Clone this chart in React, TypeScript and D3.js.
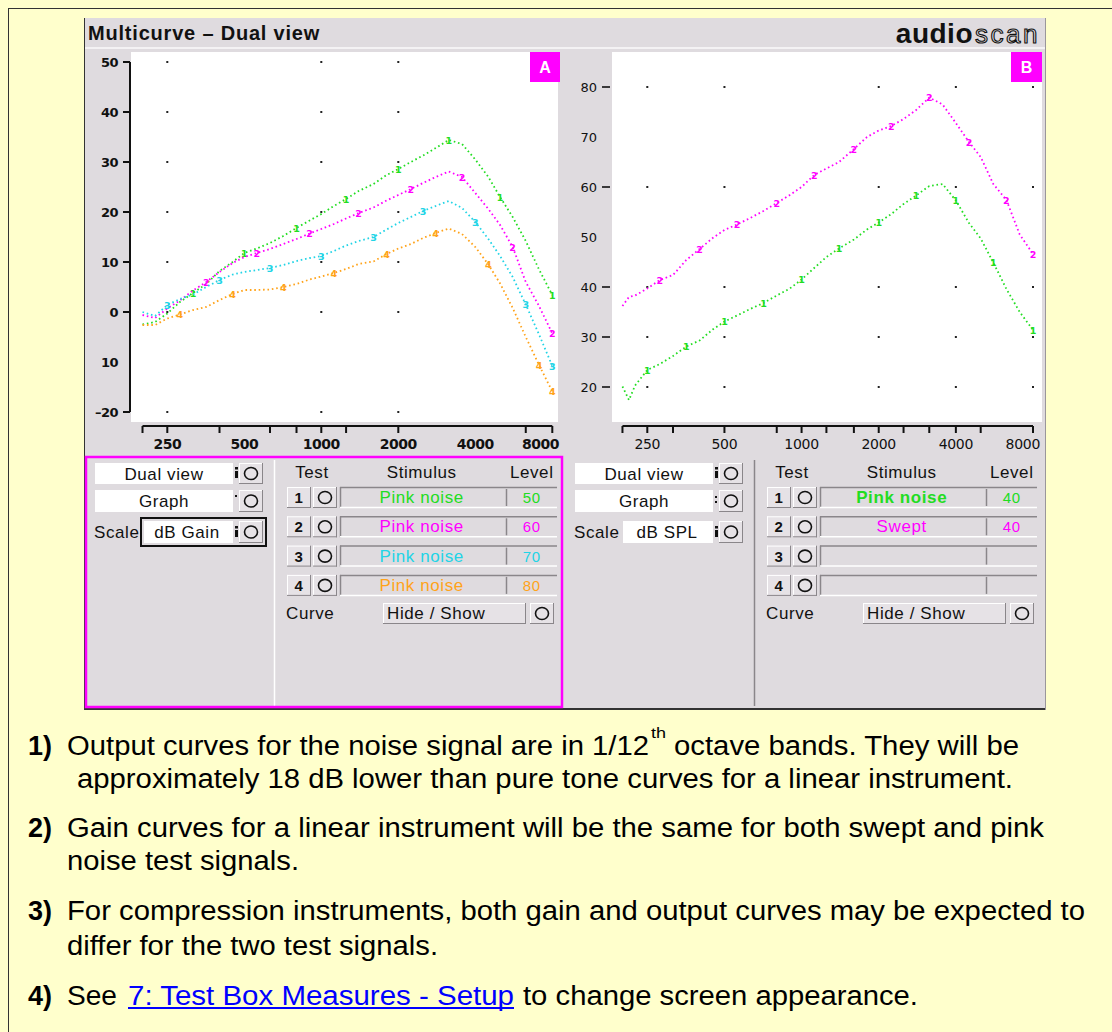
import React from 'react';
import * as d3 from 'd3';

// ---------- DATA ----------
const freqsA = [200, 224, 250, 280, 315, 355, 400, 450, 500, 560, 630, 710, 800, 900, 1000, 1120, 1250, 1400, 1600, 1800, 2000, 2240, 2500, 2800, 3150, 3550, 4000, 4500, 5000, 5600, 6300, 7100, 8000];
const gain50 = [-2.5, -2.0, -0.3, 2.0, 3.8, 5.6, 8.2, 10.0, 11.8, 12.7, 13.8, 15.2, 16.8, 18.3, 19.6, 21.2, 22.6, 24.2, 25.6, 27.4, 28.6, 30.0, 31.3, 32.8, 34.4, 33.6, 30.5, 27.0, 23.0, 19.0, 14.2, 8.5, 3.4];
const gain60 = [-0.6, -1.2, 0.7, 2.3, 4.3, 6.0, 8.0, 9.8, 11.0, 11.8, 12.6, 13.6, 14.6, 15.7, 16.6, 17.6, 18.7, 19.8, 20.9, 22.3, 23.4, 24.6, 25.8, 27.0, 28.1, 27.0, 23.8, 20.6, 17.4, 13.0, 6.0, 1.2, -4.3];
const gain70 = [0.0, -0.8, 1.4, 2.6, 3.5, 5.0, 6.4, 7.5, 8.0, 8.4, 8.8, 9.4, 10.2, 10.8, 11.2, 12.2, 13.3, 14.2, 15.0, 16.5, 17.8, 19.0, 20.2, 21.2, 22.2, 20.8, 18.0, 14.6, 11.2, 7.0, 1.5, -4.5, -10.8];
const gain80 = [-2.6, -2.6, -1.3, -0.5, 0.4, 1.0, 2.4, 3.6, 4.4, 4.4, 4.5, 5.0, 5.6, 6.5, 7.1, 7.8, 8.6, 9.6, 10.1, 11.6, 12.7, 13.6, 14.8, 15.8, 16.7, 15.6, 13.0, 9.5, 5.7, 0.8, -5.0, -10.6, -15.9];

const freqsB = [200, 212, 224, 250, 280, 315, 355, 400, 450, 500, 560, 630, 710, 800, 900, 1000, 1120, 1250, 1400, 1600, 1800, 2000, 2240, 2500, 2800, 3150, 3550, 4000, 4500, 5000, 5600, 6300, 7100, 8000];
const splPink40 = [20.1, 17.4, 20.3, 23.4, 24.6, 26.2, 28.1, 29.3, 31.5, 33.1, 34.3, 35.6, 36.8, 38.3, 39.7, 41.5, 43.8, 46.0, 47.7, 49.5, 51.5, 52.9, 54.6, 56.6, 58.3, 60.2, 60.6, 57.3, 52.8, 49.7, 44.9, 39.6, 35.0, 31.4];
const splSwept40 = [36.2, 38.0, 38.3, 39.7, 41.4, 42.4, 45.4, 47.6, 49.8, 51.4, 52.5, 53.8, 55.2, 56.8, 58.4, 60.0, 62.4, 63.7, 65.0, 67.6, 70.0, 71.3, 72.2, 73.6, 75.4, 77.9, 76.5, 72.8, 69.0, 66.0, 60.6, 57.4, 50.5, 46.6];

const xTickFreqsA = [200, 250, 400, 630, 800, 1000, 1250, 2000, 6300, 8000];
const xTickFreqsB = [200, 250, 315, 500, 800, 1000, 1250, 1600, 2000, 2500, 3150, 4000, 5000, 8000];
const xLabelFreqs = [250, 500, 1000, 2000, 4000, 8000];
const yTicksA = [50, 40, 30, 20, 10, 0, -20];
const yLabelValsA = [50, 40, 30, 20, 10, 0, -10, -20];
const yLabelTextA = ['50', '40', '30', '20', '10', '0', '10', '\u201320'];
const gridColsA = [250, 1000, 2000];
const gridRowsA = [50, 40, 30, 20, 10, 0, -20];
const yLabelValsB = [80, 70, 60, 50, 40, 30, 20];
const yDashB = [80, 60, 40, 30, 20];
const gridColsB = [250, 500, 2000, 4000, 8000];
const gridRowsB = [80, 60, 40, 30, 20];

const testsA = [
  { num: '1', stim: 'Pink noise', level: '50' },
  { num: '2', stim: 'Pink noise', level: '60' },
  { num: '3', stim: 'Pink noise', level: '70' },
  { num: '4', stim: 'Pink noise', level: '80' },
];
const testsB = [
  { num: '1', stim: 'Pink noise', level: '40' },
  { num: '2', stim: 'Swept', level: '40' },
  { num: '3', stim: '', level: '' },
  { num: '4', stim: '', level: '' },
];

// ---------- STYLES ----------
const GREEN = '#22DD22';
const MAGENTA = '#FF00FF';
const CYAN = '#22D4E6';
const ORANGE = '#FFA31A';
const PANEL = '#DFDBDF';
const YELLOW = '#FFFFCC';
const UI_FONT = '"Liberation Sans", Arial, sans-serif';
const curveColorsA = [GREEN, MAGENTA, CYAN, ORANGE];
const curveColorsB = [GREEN, MAGENTA];

const xA = d3.scaleLog().domain([250, 8000]).range([167.3, 552.3]);
const yA = d3.scaleLinear().domain([50, -20]).range([62, 412]);
const xB = d3.scaleLog().domain([250, 8000]).range([647.3, 1033]);
const yB = d3.scaleLinear().domain([80, 20]).range([87, 387]);

function Raised({ x, y, w, h, children }: any) {
  return (
    <g>
      <rect x={x} y={y} width={w} height={h} fill="#E6E2E6" />
      <line x1={x} y1={y + 0.5} x2={x + w} y2={y + 0.5} stroke="#FFFFFF" />
      <line x1={x + 0.5} y1={y} x2={x + 0.5} y2={y + h} stroke="#FFFFFF" />
      <line x1={x} y1={y + h - 0.5} x2={x + w} y2={y + h - 0.5} stroke="#8A868A" />
      <line x1={x + w - 0.5} y1={y} x2={x + w - 0.5} y2={y + h} stroke="#8A868A" />
      {children}
    </g>
  );
}

function CircleBtn({ x, y, w, h }: any) {
  return (
    <Raised x={x} y={y} w={w} h={h}>
      <ellipse cx={x + w / 2} cy={y + h / 2} rx={6.5} ry={6} fill="none" stroke="#111" strokeWidth={1.6} />
    </Raised>
  );
}

function Sunken({ x, y, w, h }: any) {
  return (
    <g>
      <rect x={x} y={y} width={w} height={h} fill={PANEL} />
      <line x1={x} y1={y + 0.5} x2={x + w} y2={y + 0.5} stroke="#8A868A" strokeWidth={1.5} />
      <line x1={x + 0.5} y1={y} x2={x + 0.5} y2={y + h} stroke="#8A868A" strokeWidth={1.5} />
      <line x1={x} y1={y + h - 0.5} x2={x + w} y2={y + h - 0.5} stroke="#FFFFFF" strokeWidth={1.5} />
    </g>
  );
}

function Marker({ x, y, kind }: any) {
  if (kind === 'dot') return <rect x={x} y={y - 6} width={2} height={2} fill="#111" />;
  if (kind === 'colon') return (
    <g fill="#111">
      <rect x={x} y={y - 5} width={2} height={2} />
      <rect x={x} y={y} width={2} height={2} />
    </g>
  );
  return (
    <g fill="#111">
      <rect x={x} y={y - 6} width={3} height={2.5} />
      <rect x={x} y={y - 2} width={3} height={7} />
    </g>
  );
}

function ControlPanel({ ox, tests, colors, scaleText, boxed, markers, hideText }: any) {
  const rowTop = (i: number) => 487 + 29.3 * i;
  return (
    <g fontFamily={UI_FONT} fontSize={17} letterSpacing={0.6}>
      <rect x={95 + ox} y={463} width={138} height={21} fill="#FFFFFF" />
      <text x={164 + ox} y={479.5} textAnchor="middle" fill="#111">Dual view</text>
      <Marker x={235 + ox} y={473} kind={markers[0]} />
      <CircleBtn x={239 + ox} y={463} w={24} h={21} />

      <rect x={95 + ox} y={490} width={138} height={22} fill="#FFFFFF" />
      <text x={164 + ox} y={507} textAnchor="middle" fill="#111">Graph</text>
      <Marker x={235 + ox} y={501} kind={markers[1]} />
      <CircleBtn x={239 + ox} y={490} w={24} h={22} />

      <text x={94 + ox} y={538} fill="#111">Scale</text>
      {boxed && <rect x={141 + ox} y={518} width={125} height={28} fill="none" stroke="#111" strokeWidth={2} />}
      <rect x={(boxed ? 144 : 623 - 480) + ox} y={521} width={boxed ? 89 : 90} height={22} fill="#FFFFFF" />
      <text x={(boxed ? 187 : 667 - 480) + ox} y={538} textAnchor="middle" fill="#111">{scaleText}</text>
      <Marker x={235 + ox} y={532} kind={markers[2]} />
      <CircleBtn x={239 + ox} y={521} w={24} h={22} />

      <line x1={274.5 + ox} y1={460} x2={274.5 + ox} y2={706} stroke={ox === 0 ? '#FFFFFF' : '#8A868A'} strokeWidth={1.5} />

      <text x={312 + ox} y={478} textAnchor="middle" fill="#111">Test</text>
      <text x={421.7 + ox} y={478} textAnchor="middle" fill="#111">Stimulus</text>
      <text x={531.7 + ox} y={478} textAnchor="middle" fill="#111">Level</text>

      {tests.map((t: any, i: number) => (
        <g key={i}>
          <Raised x={287 + ox} y={rowTop(i)} w={24} h={21}>
            <text x={299 + ox} y={rowTop(i) + 16} textAnchor="middle" fill="#111" fontWeight="bold" fontSize={15}>{t.num}</text>
          </Raised>
          <CircleBtn x={313 + ox} y={rowTop(i)} w={24} h={21} />
          <Sunken x={340 + ox} y={rowTop(i)} w={217} h={21} />
          <line x1={506.5 + ox} y1={rowTop(i) + 2} x2={506.5 + ox} y2={rowTop(i) + 19} stroke="#8A868A" strokeWidth={1.5} />
          {t.stim && (
            <text x={421.7 + ox} y={rowTop(i) + 16} textAnchor="middle" fill={colors[i]} fontWeight={ox !== 0 && i === 0 ? 'bold' : 'normal'}>{t.stim}</text>
          )}
          {t.level && (
            <text x={531.7 + ox} y={rowTop(i) + 16} textAnchor="middle" fill={colors[i]} fontSize={15}>{t.level}</text>
          )}
        </g>
      ))}

      <text x={286 + ox} y={619} fill="#111">Curve</text>
      <Raised x={383 + ox} y={603} w={143} h={21}>
        <text x={387 + ox} y={619} fill="#111">{hideText}</text>
      </Raised>
      <CircleBtn x={530 + ox} y={603} w={24} h={21} />
    </g>
  );
}

function Curve({ freqs, values, x, y, color, label, step, phase }: any) {
  const line = d3.line<number>().x((_, i) => x(freqs[i])).y((d) => y(d));
  const n = values.length;
  const idx = values.map((_: number, i: number) => i).filter((i: number) => (i >= 2 && i % step === phase) || i === n - 1);
  return (
    <g>
      <path d={line(values) || ''} fill="none" stroke={color} strokeWidth={1.8} strokeDasharray="1.6 2.8" />
      {idx.map((i: number) => (
        <text key={i} x={x(freqs[i])} y={y(values[i]) + 3.5} textAnchor="middle" fontSize={9.5} fontWeight="bold" fontFamily='"DejaVu Sans", sans-serif' fill={color}>{label}</text>
      ))}
    </g>
  );
}

export default function App() {
  const seriesA = [gain50, gain60, gain70, gain80];
  const seriesB = [splPink40, splSwept40];
  const labelsA = ['1', '2', '3', '4'];
  const labelsB = ['1', '2'];

  const para = { fontFamily: UI_FONT, fontSize: 27, fill: '#000' } as any;

  return (
    <svg width={1112} height={1032} style={{ position: 'absolute', left: 0, top: 0 }} xmlns="http://www.w3.org/2000/svg">
      <defs>
        <clipPath id="clipA"><rect x={131} y={52} width={427} height={370} /></clipPath>
        <clipPath id="clipB"><rect x={612} y={52} width={430} height={370} /></clipPath>
      </defs>
      <rect x={0} y={0} width={1112} height={1032} fill={YELLOW} />
      <line x1={8.5} y1={8} x2={8.5} y2={1032} stroke="#333" strokeWidth={1} />
      <line x1={8} y1={8.5} x2={1112} y2={8.5} stroke="#333" strokeWidth={1} />

      {/* window */}
      <rect x={84} y={18} width={962} height={692} fill={PANEL} />
      <line x1={84.5} y1={18} x2={84.5} y2={710} stroke="#333" />
      <line x1={84} y1={709} x2={1046} y2={709} stroke="#333" strokeWidth={2} />
      <line x1={1045.5} y1={18} x2={1045.5} y2={710} stroke="#9A969A" />
      <line x1={85} y1={48} x2={1045} y2={48} stroke="#F4F2F4" strokeWidth={2} />

      {/* title bar */}
      <text x={88} y={40} fontFamily={UI_FONT} fontSize={20} fontWeight="bold" fill="#111" letterSpacing={0.8}>Multicurve – Dual view</text>
      <text x={973} y={43} textAnchor="end" fontFamily={UI_FONT} fontSize={28} fontWeight="bold" fill="#111" letterSpacing={0.5}>audio</text>
      <text x={975} y={43} fontFamily={UI_FONT} fontSize={26} fill="none" stroke="#111" strokeWidth={1.1} letterSpacing={2.5}>scan</text>

      {/* plot areas */}
      <rect x={131} y={52} width={427} height={370} fill="#FFFFFF" />
      <rect x={612} y={52} width={430} height={370} fill="#FFFFFF" />

      {/* badges */}
      <rect x={530} y={52} width={30} height={30} fill={MAGENTA} />
      <text x={545} y={73} textAnchor="middle" fontFamily={UI_FONT} fontSize={16} fontWeight="bold" fill="#FFF">A</text>
      <rect x={1011} y={52} width={31} height={30} fill={MAGENTA} />
      <text x={1026.5} y={73} textAnchor="middle" fontFamily={UI_FONT} fontSize={16} fontWeight="bold" fill="#FFF">B</text>

      {gridRowsA.map((r) => gridColsA.map((c) => (
        <rect key={`ga${r}-${c}`} x={xA(c) - 1} y={yA(r) - 1} width={2} height={2} fill="#222" />
      )))}
      {gridRowsB.map((r) => gridColsB.map((c) => (
        <rect key={`gb${r}-${c}`} x={xB(c) - 1} y={yB(r) - 1} width={2} height={2} fill="#222" />
      )))}

      {/* chart A axes */}
      <line x1={130} y1={yA(50)} x2={130} y2={yA(-20)} stroke="#111" strokeWidth={2} />
      {yTicksA.map((v) => (
        <line key={`yta${v}`} x1={123} y1={yA(v)} x2={130} y2={yA(v)} stroke="#111" strokeWidth={2} />
      ))}
      {yLabelValsA.map((v, i) => (
        <text key={`yla${v}`} x={118} y={yA(v) + 5} textAnchor="end" fontFamily='"DejaVu Sans", sans-serif' fontSize={13} fontWeight="bold" fill="#111" letterSpacing={-0.5}>{yLabelTextA[i]}</text>
      ))}
      <line x1={xA(200)} y1={426} x2={xA(8000)} y2={426} stroke="#111" strokeWidth={2} />
      {xTickFreqsA.map((f) => (
        <line key={`xta${f}`} x1={xA(f)} y1={426} x2={xA(f)} y2={433} stroke="#111" strokeWidth={2} />
      ))}
      {xLabelFreqs.map((f, i) => (
        <text key={`xla${f}`} x={i === xLabelFreqs.length - 1 ? 559 : xA(f)} y={449} textAnchor={i === xLabelFreqs.length - 1 ? 'end' : 'middle'} fontFamily='"DejaVu Sans", sans-serif' fontSize={14} fontWeight="bold" fill="#111" letterSpacing={-0.5}>{f}</text>
      ))}

      {/* chart B axes */}
      {yLabelValsB.map((v) => (
        <g key={`ylb${v}`}>
          <text x={597} y={yB(v) + 5} textAnchor="end" fontFamily='"DejaVu Sans", sans-serif' fontSize={13} fill="#111">{v}</text>
          {yDashB.includes(v) && <line x1={602} y1={yB(v)} x2={610} y2={yB(v)} stroke="#111" strokeWidth={1.6} />}
        </g>
      ))}
      <line x1={xB(200)} y1={426} x2={xB(8000)} y2={426} stroke="#111" strokeWidth={2} />
      {xTickFreqsB.map((f) => (
        <line key={`xtb${f}`} x1={xB(f)} y1={426} x2={xB(f)} y2={433} stroke="#111" strokeWidth={2} />
      ))}
      {xLabelFreqs.map((f, i) => (
        <text key={`xlb${f}`} x={i === xLabelFreqs.length - 1 ? 1040 : xB(f)} y={449} textAnchor={i === xLabelFreqs.length - 1 ? 'end' : 'middle'} fontFamily='"DejaVu Sans", sans-serif' fontSize={14} fill="#111" letterSpacing={-0.3}>{f}</text>
      ))}

      {/* curves */}
      <g clipPath="url(#clipA)">
        {seriesA.map((s, i) => (
          <Curve key={`ca${i}`} freqs={freqsA} values={s} x={xA} y={yA} color={curveColorsA[i]} label={labelsA[i]} step={4} phase={i} />
        ))}
      </g>
      <g clipPath="url(#clipB)">
        {seriesB.map((s, i) => (
          <Curve key={`cb${i}`} freqs={freqsB} values={s} x={xB} y={yB} color={curveColorsB[i]} label={labelsB[i]} step={3} phase={i} />
        ))}
      </g>

      {/* control panels */}
      <ControlPanel ox={0} tests={testsA} colors={curveColorsA} scaleText="dB Gain" boxed={true} markers={['bar', 'dot', 'bar']} hideText="Hide / Show" />
      <ControlPanel ox={480} tests={testsB} colors={curveColorsB} scaleText="dB SPL" boxed={false} markers={['bar', 'colon', 'bar']} hideText="Hide / Show" />
      <rect x={86} y={457} width={476} height={250} fill="none" stroke={MAGENTA} strokeWidth={2.5} />

      {/* notes */}
      <text x={28} y={755} {...para} fontWeight="bold">1)</text>
      <text x={67} y={755} {...para} textLength={582} lengthAdjust="spacingAndGlyphs">Output curves for the noise signal are in 1/12</text>
      <text x={651} y={738} {...para} fontSize={15} textLength={15} lengthAdjust="spacingAndGlyphs">th</text>
      <text x={674} y={755} {...para} textLength={345} lengthAdjust="spacingAndGlyphs">octave bands. They will be</text>
      <text x={77} y={788} {...para} textLength={936} lengthAdjust="spacingAndGlyphs">approximately 18 dB lower than pure tone curves for a linear instrument.</text>

      <text x={28} y={837} {...para} fontWeight="bold">2)</text>
      <text x={67} y={837} {...para} textLength={977} lengthAdjust="spacingAndGlyphs">Gain curves for a linear instrument will be the same for both swept and pink</text>
      <text x={67} y={870} {...para} textLength={232} lengthAdjust="spacingAndGlyphs">noise test signals.</text>

      <text x={28} y={920} {...para} fontWeight="bold">3)</text>
      <text x={67} y={920} {...para} textLength={1018} lengthAdjust="spacingAndGlyphs">For compression instruments, both gain and output curves may be expected to</text>
      <text x={67} y={955} {...para} textLength={371} lengthAdjust="spacingAndGlyphs">differ for the two test signals.</text>

      <text x={28} y={1005} {...para} fontWeight="bold">4)</text>
      <text x={67} y={1005} {...para} textLength={50} lengthAdjust="spacingAndGlyphs">See</text>
      <text x={128} y={1005} {...para} fill="#0000FF" textLength={386} lengthAdjust="spacingAndGlyphs">7: Test Box Measures - Setup</text>
      <line x1={128} y1={1008} x2={514} y2={1008} stroke="#0000FF" strokeWidth={2} />
      <text x={523} y={1005} {...para} textLength={395} lengthAdjust="spacingAndGlyphs">to change screen appearance.</text>
    </svg>
  );
}
